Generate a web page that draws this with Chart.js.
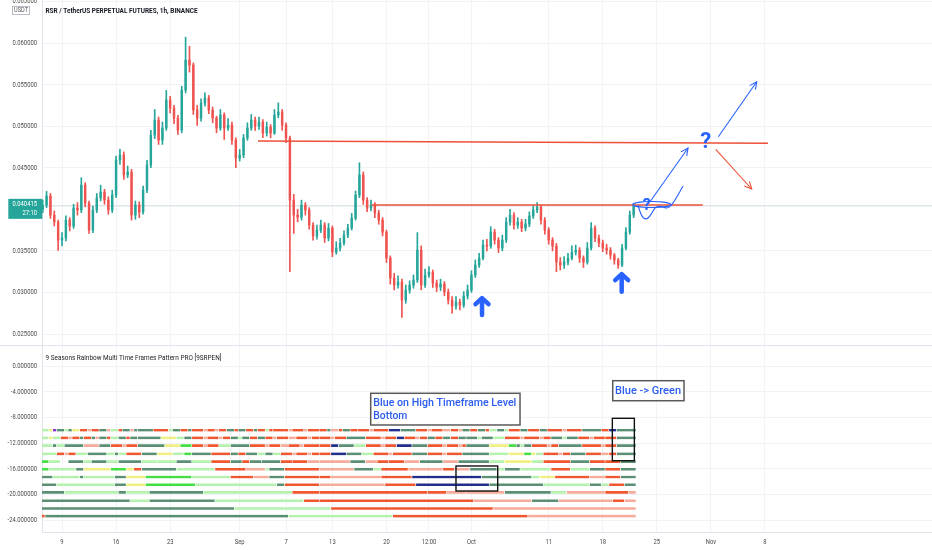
<!DOCTYPE html>
<html>
<head>
<meta charset="utf-8">
<script src="https://cdn.jsdelivr.net/npm/chart.js@4.4.1/dist/chart.umd.min.js"></script>
<style>
  html, body { margin: 0; padding: 0; background: #ffffff; }
  #wrap { position: relative; width: 932px; height: 550px; overflow: hidden; background: #ffffff; }
  #price-chart { position: absolute; left: 0; top: 0; width: 932px; height: 346px; }
  #rainbow-chart { position: absolute; left: 0; top: 346px; width: 932px; height: 204px; }
</style>
</head>
<body>
<div id="wrap">
  <canvas id="price-chart" width="932" height="346"></canvas>
  <canvas id="rainbow-chart" width="932" height="204"></canvas>
</div>
<script>
console.log("RSR chart loaded");

// Sumbu waktu pakai angka hari: 1 = 1 Agustus, 32 = 1 Sep, 62 = 1 Okt, 93 = 1 Nov
const dateTicks = [9, 16, 23, 32, 38, 44, 51, 56.5, 62, 72, 79, 86, 93, 100];
const dateLabels = ["9", "16", "23", "Sep", "7", "13", "20", "12:00", "Oct", "11", "18", "25", "Nov", "8"];

// Label harga di kiri (0.040000 ketutup tag harga terakhir)
const priceTicks = [0.025, 0.03, 0.035, 0.045, 0.05, 0.055, 0.06, 0.065];
const indicatorTicks = [0, -4, -8, -12, -16, -20, -24];

// Candle diringkas jadi per 12 jam
const candleStart = 6.5;
const candleStep = 0.5;

const opens = [
  0.04000, 0.04051, 0.04159, 0.03931, 0.03846, 0.03630, 0.03654, 0.03870, 0.03798, 0.04015,
  0.03991, 0.04291, 0.04075, 0.03750, 0.03991, 0.04135, 0.04207, 0.04111, 0.03991, 0.04171,
  0.04592, 0.04652, 0.04412, 0.04448, 0.03931, 0.04051, 0.03967, 0.04231, 0.04532, 0.04893,
  0.05073, 0.04833, 0.04977, 0.05314, 0.05218, 0.05097, 0.04953, 0.05434, 0.05795, 0.05735,
  0.05194, 0.05097, 0.05278, 0.05338, 0.05194, 0.05097, 0.04977, 0.05134, 0.04977, 0.05013,
  0.04833, 0.04616, 0.04652, 0.04857, 0.04977, 0.05073, 0.05001, 0.05049, 0.04917, 0.04989,
  0.04917, 0.05134, 0.05170, 0.05013, 0.04857, 0.04111, 0.03931, 0.03906, 0.04051, 0.03991,
  0.03810, 0.03678, 0.03750, 0.03810, 0.03654, 0.03774, 0.03485, 0.03534, 0.03594, 0.03690,
  0.03774, 0.03894, 0.04171, 0.04412, 0.04111, 0.04015, 0.04051, 0.03955, 0.03870, 0.03726,
  0.03413, 0.03173, 0.03088, 0.03125, 0.02908, 0.03028, 0.03088, 0.03149, 0.03509, 0.03088,
  0.03209, 0.03245, 0.03113, 0.03064, 0.03100, 0.03004, 0.02908, 0.02836, 0.02884, 0.02848,
  0.02956, 0.03028, 0.03209, 0.03329, 0.03413, 0.03570, 0.03558, 0.03726, 0.03630, 0.03534,
  0.03630, 0.03846, 0.03931, 0.03810, 0.03846, 0.03774, 0.03822, 0.03919, 0.03991, 0.04027,
  0.03870, 0.03750, 0.03630, 0.03558, 0.03365, 0.03329, 0.03365, 0.03413, 0.03485, 0.03509,
  0.03413, 0.03365, 0.03534, 0.03774, 0.03654, 0.03594, 0.03534, 0.03509, 0.03449, 0.03389,
  0.03329, 0.03534, 0.03726, 0.03931
];

const highs = [
  0.04110, 0.04215, 0.04190, 0.03980, 0.03870, 0.03720, 0.03920, 0.03900, 0.04060, 0.04080,
  0.04380, 0.04320, 0.04100, 0.04040, 0.04190, 0.04290, 0.04240, 0.04150, 0.04230, 0.04640,
  0.04720, 0.04690, 0.04520, 0.04480, 0.04100, 0.04090, 0.04280, 0.04590, 0.04950, 0.05200,
  0.05110, 0.05050, 0.05430, 0.05360, 0.05250, 0.05130, 0.05480, 0.06070, 0.05960, 0.05760,
  0.05250, 0.05330, 0.05400, 0.05370, 0.05230, 0.05120, 0.05200, 0.05160, 0.05090, 0.05050,
  0.04860, 0.04720, 0.04900, 0.05040, 0.05140, 0.05110, 0.05110, 0.05080, 0.05050, 0.05020,
  0.05200, 0.05280, 0.05200, 0.05040, 0.04880, 0.04180, 0.04000, 0.04110, 0.04080, 0.04020,
  0.03840, 0.03810, 0.03870, 0.03840, 0.03830, 0.03800, 0.03610, 0.03650, 0.03740, 0.03820,
  0.03950, 0.04220, 0.04560, 0.04450, 0.04140, 0.04110, 0.04080, 0.03990, 0.03900, 0.03750,
  0.03440, 0.03230, 0.03200, 0.03160, 0.03090, 0.03140, 0.03210, 0.03720, 0.03560, 0.03280,
  0.03310, 0.03270, 0.03150, 0.03160, 0.03130, 0.03040, 0.02950, 0.02950, 0.02920, 0.03010,
  0.03090, 0.03260, 0.03390, 0.03470, 0.03630, 0.03640, 0.03790, 0.03760, 0.03660, 0.03690,
  0.03900, 0.04000, 0.03960, 0.03900, 0.03880, 0.03880, 0.03970, 0.04040, 0.04080, 0.04050,
  0.03900, 0.03780, 0.03660, 0.03590, 0.03420, 0.03430, 0.03470, 0.03560, 0.03570, 0.03540,
  0.03440, 0.03600, 0.03840, 0.03800, 0.03690, 0.03630, 0.03580, 0.03540, 0.03470, 0.03410,
  0.03580, 0.03780, 0.03980, 0.04070
];

const lows = [
  0.03960, 0.04020, 0.03890, 0.03800, 0.03505, 0.03560, 0.03620, 0.03740, 0.03770, 0.03930,
  0.03960, 0.04030, 0.03710, 0.03720, 0.03960, 0.04100, 0.04060, 0.03940, 0.03960, 0.04140,
  0.04540, 0.04360, 0.04380, 0.03870, 0.03880, 0.03900, 0.03940, 0.04200, 0.04500, 0.04850,
  0.04780, 0.04780, 0.04950, 0.05160, 0.05030, 0.04900, 0.04920, 0.05400, 0.05650, 0.05140,
  0.05010, 0.05060, 0.05240, 0.05150, 0.05040, 0.04920, 0.04950, 0.04840, 0.04950, 0.04780,
  0.04500, 0.04580, 0.04620, 0.04830, 0.04950, 0.04950, 0.04960, 0.04860, 0.04880, 0.04860,
  0.04900, 0.05100, 0.04950, 0.04800, 0.03250, 0.03710, 0.03850, 0.03870, 0.03930, 0.03760,
  0.03630, 0.03640, 0.03720, 0.03600, 0.03620, 0.03430, 0.03460, 0.03500, 0.03570, 0.03660,
  0.03750, 0.03870, 0.04140, 0.04060, 0.03970, 0.03980, 0.03900, 0.03820, 0.03680, 0.03360,
  0.03100, 0.03030, 0.03050, 0.02700, 0.02870, 0.02990, 0.03050, 0.03120, 0.03030, 0.03060,
  0.03180, 0.03060, 0.03010, 0.03020, 0.02960, 0.02860, 0.02750, 0.02800, 0.02790, 0.02820,
  0.02920, 0.03000, 0.03180, 0.03300, 0.03390, 0.03500, 0.03530, 0.03580, 0.03480, 0.03500,
  0.03600, 0.03810, 0.03760, 0.03770, 0.03730, 0.03740, 0.03790, 0.03890, 0.03960, 0.03820,
  0.03700, 0.03580, 0.03500, 0.03250, 0.03270, 0.03290, 0.03330, 0.03390, 0.03450, 0.03360,
  0.03300, 0.03340, 0.03510, 0.03610, 0.03550, 0.03490, 0.03460, 0.03400, 0.03340, 0.03290,
  0.03310, 0.03510, 0.03700, 0.03900
];

const closes = [
  0.04051, 0.04159, 0.03931, 0.03846, 0.03630, 0.03654, 0.03870, 0.03798, 0.04015, 0.03991,
  0.04291, 0.04075, 0.03750, 0.03991, 0.04135, 0.04207, 0.04111, 0.03991, 0.04171, 0.04592,
  0.04652, 0.04412, 0.04448, 0.03931, 0.04051, 0.03967, 0.04231, 0.04532, 0.04893, 0.05073,
  0.04833, 0.04977, 0.05314, 0.05218, 0.05097, 0.04953, 0.05434, 0.05795, 0.05735, 0.05194,
  0.05097, 0.05278, 0.05338, 0.05194, 0.05097, 0.04977, 0.05134, 0.04977, 0.05013, 0.04833,
  0.04616, 0.04652, 0.04857, 0.04977, 0.05073, 0.05001, 0.05049, 0.04917, 0.04989, 0.04917,
  0.05134, 0.05170, 0.05013, 0.04857, 0.04111, 0.03931, 0.03906, 0.04051, 0.03991, 0.03810,
  0.03678, 0.03750, 0.03810, 0.03654, 0.03774, 0.03485, 0.03534, 0.03594, 0.03690, 0.03774,
  0.03894, 0.04171, 0.04412, 0.04111, 0.04015, 0.04051, 0.03955, 0.03870, 0.03726, 0.03413,
  0.03173, 0.03088, 0.03125, 0.02908, 0.03028, 0.03088, 0.03149, 0.03509, 0.03088, 0.03209,
  0.03245, 0.03113, 0.03064, 0.03100, 0.03004, 0.02908, 0.02836, 0.02884, 0.02848, 0.02956,
  0.03028, 0.03209, 0.03329, 0.03413, 0.03570, 0.03558, 0.03726, 0.03630, 0.03534, 0.03630,
  0.03846, 0.03931, 0.03810, 0.03846, 0.03774, 0.03822, 0.03919, 0.03991, 0.04027, 0.03870,
  0.03750, 0.03630, 0.03558, 0.03365, 0.03329, 0.03365, 0.03413, 0.03485, 0.03509, 0.03413,
  0.03365, 0.03534, 0.03774, 0.03654, 0.03594, 0.03534, 0.03509, 0.03449, 0.03389, 0.03329,
  0.03534, 0.03726, 0.03931, 0.040415
];

// Indikator rainbow: tiap baris = level + status per 12 jam (kode + jumlah slot)
// G hijau tua, g hijau muda, L hijau terang, Y kuning, R merah, r merah muda, B biru, P ungu, . kosong
const rowStart = 6.3;
const rowStep = 0.5;
const rowLevels = [-10, -11.2, -12.4, -13.7, -14.9, -16.1, -17.3, -18.5, -19.7, -21, -22.2, -23.4];
const rowStates = [
  "g2 Y1 P1 G2 g1 G1 Y2 R2 r1 R2 G2 r1 g2 R1 G2 r1 G1 G4 R4 g1 G2 R2 G1 R3 r1 R2 r1 R2 G2 R1 G2 R2 G1 R2 g1 R1 R4 r1 R3 r1 R3 R2 G1 r2 R1 G2 R2 R3 r1 R4 B3 G4 R3 r1 R3 r2 R2 r1 G2 R2 G2 R1 g2 G2 g1 R3 G2 R3 G2 R4 r1 R4 G5 R2 B2 G5",
  "g2 Y1 g2 R2 r1 R2 G1 R2 G1 r1 G2 R1 g2 G2 R1 G2 G6 Y4 g2 G2 R3 r1 R3 r1 R2 G2 g1 G2 R2 G2 R2 r1 R3 r2 R3 r1 R2 R3 r1 R3 G5 R4 r1 R3 B2 R3 r1 R2 G2 R2 G2 R2 G2 G3 g1 G3 g3 R4 r1 R4 r1 R2 G3 g1 G3 R3 r1 R3 R3 G5",
  "g3 G1 g2 G5 r4 G3 R3 r1 R3 G7 Y4 L3 R3 r1 R3 g3 G5 R4 r1 R3 r2 R3 r1 R4 R3 B2 G4 g3 R4 r1 R3 B4 G4 R4 r1 R3 r1 R1 G6 Y5 L2 G1 g1 G2 R4 r1 R2 G6 R5 r1 R3 G5",
  "g4 R2 r1 R2 g3 G5 g2 G1 g2 R4 G4 Y4 g3 L2 G5 R5 G2 R2 G3 g2 G2 g2 R3 r1 R3 r1 R2 R3 B4 G4 g3 R4 r1 R5 G4 R4 r1 R4 G7 g5 Y4 L2 Y1 g2 R4 r1 R2 G4 R4 r2 R2 G5",
  "L2 g3 .2 G4 g2 G4 g3 G6 g4 g5 G4 g5 R5 G3 R2 G3 G5 R3 R4 r3 r8 G4 r3 R3 R4 r4 G6 r4 G8 g4 Y7 g3 R7 G5 R4 R4 G4",
  "L2 g7 G2 Y7 L4 Y2 R2 G9 g10 R8 r5 g1 G4 R9 r9 G5 g2 R7 r9 R3 r4 G7 g2 G4 g8 R5 g5 G4 R4 G4",
  "G3 g7 G1 g8 G3 Y5 L12 g10 R6 r4 G4 R9 R3 r13 R8 B18 G13 g2 Y4 R9 r4 R4 G4",
  "G4 g15 G3 Y5 L13 g21 G2 R9 r17 R8 B19 G14 g12 G3 g2 R4 G3",
  "G6 g14 G2 g6 G14 g23 R7 R28 R5 r5 r10 G12 g4 r10 R6 r2",
  "G23 g5 G17 g23 R4 R40 r15 G7 r14 R3 r3",
  "G50 g25 R42 r37",
  "R1 G63 g27 R35 r28"
];

const stateColors = {
  G: "#5b8f74", g: "#b4f2ae", L: "#44dd44", Y: "#f0ef82",
  R: "#f0572f", r: "#f6ab9b", B: "#232d8c", P: "#8c2fd6"
};

const TEAL = "#26a69a";
const RED = "#ef5350";
const BLUE = "#2962ff";
const LINE_RED = "#ee5038";
const GRID = "#f2f3f6";
const BORDER = "#e0e3eb";
const AXIS_TEXT = "#4a4a4a";

const xMin = 6.41, xMax = 121.62;
const priceMin = 0.023559, priceMax = 0.065172;
const levelMin = -25.87, levelMax = 3.12;

// Coretan manual di chart, koordinat dalam hari & harga
const redLines = [
  { from: [34.37, 0.048214], to: [100.39, 0.047937] },
  { from: [49.09, 0.040517], to: [91.94, 0.040517] }
];
const thinArrows = [
  { from: [85.12, 0.040914], to: [90.04, 0.047372], color: BLUE },
  { from: [93.96, 0.048731], to: [98.93, 0.055346], color: BLUE },
  { from: [93.62, 0.047216], to: [98.28, 0.042441], color: LINE_RED }
];
const bigArrows = [
  { x: 63.37, tip: 0.029488, base: 0.027287 },
  { x: 81.45, tip: 0.032374, base: 0.030089 }
];
const waveCurve = [
  [83.56, 0.040517], [83.95, 0.039194], [84.60, 0.038713], [85.25, 0.039314], [85.76, 0.040276],
  [86.54, 0.040396], [87.45, 0.040035], [88.23, 0.040877], [89.39, 0.042802]
];
const ringShape = { left: 82.88, right: 87.80, top: 0.040938, bottom: 0.040216 };
const questionMarks = [
  { x: 92.33, y: 0.048009, size: 22 },
  { x: 84.69, y: 0.040396, size: 16 }
];

// Kotak & catatan di panel indikator (hari, level)
const markBoxes = [
  { x1: 60.0, x2: 65.40, y1: -15.58, y2: -19.48 },
  { x1: 80.24, x2: 83.09, y1: -8.15, y2: -14.76 }
];
const noteBoxes = [
  { x1: 48.96, x2: 68.29, y1: -4.25, y2: -9.19,
    lines: [
      { text: "Blue on High Timeframe Level", x: 49.30, y: -5.81, width: 143 },
      { text: "Bottom", x: 49.30, y: -7.79, width: 34 }
    ] },
  { x1: 80.29, x2: 89.52, y1: -2.29, y2: -5.41,
    lines: [ { text: "Blue -> Green", x: 80.59, y: -3.90, width: 66 } ] }
];

// Helper gambar teks yang agak dipadatkan (font layar aslinya sempit)
function drawText(ctx, text, x, y, opt) {
  ctx.save();
  ctx.font = opt.font;
  ctx.fillStyle = opt.color;
  ctx.textBaseline = "middle";
  ctx.textAlign = opt.align || "left";
  const w = ctx.measureText(text).width;
  const sx = opt.width ? opt.width / w : (opt.squeeze || 1);
  ctx.translate(x, y);
  ctx.scale(sx, 1);
  ctx.fillText(text, 0, 0);
  ctx.restore();
}

function arrowLine(ctx, x1, y1, x2, y2, color) {
  ctx.save();
  ctx.strokeStyle = color;
  ctx.lineWidth = 1.1;
  ctx.beginPath();
  ctx.moveTo(x1, y1);
  ctx.lineTo(x2, y2);
  ctx.stroke();
  const a = Math.atan2(y2 - y1, x2 - x1);
  ctx.beginPath();
  ctx.moveTo(x2 - 8 * Math.cos(a - 0.45), y2 - 8 * Math.sin(a - 0.45));
  ctx.lineTo(x2, y2);
  ctx.lineTo(x2 - 8 * Math.cos(a + 0.45), y2 - 8 * Math.sin(a + 0.45));
  ctx.stroke();
  ctx.restore();
}

function bigArrow(ctx, x, yTip, yBase) {
  ctx.save();
  ctx.strokeStyle = BLUE;
  ctx.lineWidth = 4.5;
  ctx.lineCap = "round";
  ctx.lineJoin = "round";
  ctx.beginPath();
  ctx.moveTo(x, yBase);
  ctx.lineTo(x, yTip + 2);
  ctx.stroke();
  ctx.beginPath();
  ctx.moveTo(x - 6.5, yTip + 7.5);
  ctx.lineTo(x, yTip + 1.5);
  ctx.lineTo(x + 6.5, yTip + 7.5);
  ctx.stroke();
  ctx.restore();
}

function smoothPath(ctx, pts) {
  ctx.beginPath();
  ctx.moveTo(pts[0][0], pts[0][1]);
  for (let i = 1; i < pts.length - 1; i++) {
    const mx = (pts[i][0] + pts[i + 1][0]) / 2;
    const my = (pts[i][1] + pts[i + 1][1]) / 2;
    ctx.quadraticCurveTo(pts[i][0], pts[i][1], mx, my);
  }
  const last = pts[pts.length - 1];
  ctx.lineTo(last[0], last[1]);
  ctx.stroke();
}

function candleColor(i) {
  return closes[i] >= opens[i] ? TEAL : RED;
}

const wickData = highs.map((h, i) => ({ x: candleStart + i * candleStep, y: [lows[i], h] }));
const bodyData = opens.map((o, i) => ({ x: candleStart + i * candleStep, y: [o, closes[i]] }));

// Overlay panel harga: garis, coretan, label sumbu, judul
const priceOverlay = {
  id: "priceOverlay",
  beforeDatasetsDraw(chart) {
    const { ctx, scales: { y }, chartArea } = chart;
    const py = y.getPixelForValue(closes[closes.length - 1]);
    ctx.save();
    ctx.strokeStyle = "#dfe6e9";
    ctx.lineWidth = 1.5;
    ctx.beginPath();
    ctx.moveTo(chartArea.left, py);
    ctx.lineTo(chartArea.right, py);
    ctx.stroke();
    ctx.restore();
  },
  afterDatasetsDraw(chart) {
    const { ctx, scales: { x, y } } = chart;
    const px = (p) => [x.getPixelForValue(p[0]), y.getPixelForValue(p[1])];

    ctx.save();
    ctx.strokeStyle = LINE_RED;
    ctx.lineWidth = 1.6;
    redLines.forEach((l) => {
      const a = px(l.from), b = px(l.to);
      ctx.beginPath();
      ctx.moveTo(a[0], a[1]);
      ctx.lineTo(b[0], b[1]);
      ctx.stroke();
    });
    ctx.restore();

    thinArrows.forEach((a) => {
      const p1 = px(a.from), p2 = px(a.to);
      arrowLine(ctx, p1[0], p1[1], p2[0], p2[1], a.color);
    });

    bigArrows.forEach((a) => {
      bigArrow(ctx, x.getPixelForValue(a.x), y.getPixelForValue(a.tip), y.getPixelForValue(a.base));
    });

    ctx.save();
    ctx.strokeStyle = BLUE;
    ctx.lineWidth = 1.1;
    const l = x.getPixelForValue(ringShape.left), r = x.getPixelForValue(ringShape.right);
    const t = y.getPixelForValue(ringShape.top), b = y.getPixelForValue(ringShape.bottom);
    ctx.beginPath();
    ctx.ellipse((l + r) / 2, (t + b) / 2, (r - l) / 2, (b - t) / 2, 0, 0, Math.PI * 2);
    ctx.stroke();
    smoothPath(ctx, waveCurve.map(px));
    ctx.restore();

    questionMarks.forEach((q) => {
      drawText(ctx, "?", x.getPixelForValue(q.x), y.getPixelForValue(q.y), {
        font: "bold " + q.size + "px Roboto", color: BLUE, align: "center"
      });
    });
  },
  afterDraw(chart) {
    const { ctx, scales: { y }, chartArea } = chart;

    // label harga
    priceTicks.forEach((v) => {
      drawText(ctx, v.toFixed(6), 37, y.getPixelForValue(v), {
        font: "8px Roboto", color: AXIS_TEXT, align: "right", squeeze: 0.73
      });
    });

    // kotak USDT
    ctx.save();
    ctx.fillStyle = "#ffffff";
    ctx.strokeStyle = "#b8bcc6";
    ctx.lineWidth = 1;
    ctx.fillRect(12.5, 6.5, 17, 8);
    ctx.strokeRect(12.5, 6.5, 17, 8);
    ctx.restore();
    drawText(ctx, "USDT", 21, 10.7, { font: "7px Roboto", color: "#555", align: "center", width: 14 });

    // tag harga terakhir
    const last = closes[closes.length - 1];
    const py = y.getPixelForValue(last);
    ctx.save();
    ctx.fillStyle = TEAL;
    ctx.fillRect(8.3, py - 7, 34, 20);
    ctx.restore();
    drawText(ctx, last.toFixed(6), 37, py - 1.5, { font: "8px Roboto", color: "#ffffff", align: "right", squeeze: 0.73 });
    drawText(ctx, "27:10", 37, py + 7.3, { font: "8px Roboto", color: "#ffffff", align: "right", squeeze: 0.73 });

    // judul
    drawText(ctx, "RSR / TetherUS PERPETUAL FUTURES, 1h, BINANCE", 45.5, 11.5, {
      font: "bold 7.5px Roboto", color: "#131722", width: 152
    });

    // garis pemisah panel
    ctx.save();
    ctx.strokeStyle = BORDER;
    ctx.lineWidth = 1.2;
    ctx.beginPath();
    ctx.moveTo(0, chartArea.bottom - 0.5);
    ctx.lineTo(chart.width, chartArea.bottom - 0.5);
    ctx.stroke();
    ctx.restore();
  }
};

const priceChart = new Chart(document.querySelector("#price-chart"), {
  type: "bar",
  data: {
    datasets: [
      {
        data: wickData,
        backgroundColor: (c) => candleColor(c.dataIndex),
        barThickness: 1,
        grouped: false,
        order: 2
      },
      {
        data: bodyData,
        backgroundColor: (c) => candleColor(c.dataIndex),
        barThickness: 1.8,
        grouped: false,
        order: 1
      }
    ]
  },
  options: {
    responsive: false,
    animation: false,
    events: [],
    layout: { padding: 0 },
    plugins: { legend: { display: false }, tooltip: { enabled: false } },
    scales: {
      x: {
        type: "linear",
        min: xMin,
        max: xMax,
        offset: false,
        grid: { offset: false, color: GRID, drawTicks: false },
        border: { display: false },
        ticks: { display: false },
        afterBuildTicks: (s) => { s.ticks = dateTicks.map((v) => ({ value: v })); },
        afterFit: (s) => { s.height = 0; }
      },
      y: {
        type: "linear",
        position: "left",
        min: priceMin,
        max: priceMax,
        grid: { color: GRID, drawTicks: false },
        border: { display: true, color: BORDER },
        ticks: { display: false },
        afterBuildTicks: (s) => { s.ticks = priceTicks.map((v) => ({ value: v })); },
        afterFit: (s) => { s.width = 42; }
      }
    }
  },
  plugins: [priceOverlay]
});

// Susun batang horizontal buat tiap baris rainbow
const rainbowBars = [];
rowStates.forEach((row, r) => {
  let t = rowStart;
  row.split(" ").forEach((tok) => {
    const code = tok[0];
    const len = Number(tok.slice(1)) * rowStep;
    if (code !== ".") {
      rainbowBars.push({ x: [t, t + len], y: rowLevels[r], code: code });
    }
    t += len;
  });
});

const rainbowOverlay = {
  id: "rainbowOverlay",
  afterDatasetsDraw(chart) {
    const { ctx, scales: { x, y } } = chart;

    ctx.save();
    ctx.strokeStyle = "#111111";
    ctx.lineWidth = 1.4;
    markBoxes.forEach((b) => {
      const l = x.getPixelForValue(b.x1), r = x.getPixelForValue(b.x2);
      const t = y.getPixelForValue(b.y1), bt = y.getPixelForValue(b.y2);
      ctx.strokeRect(l, t, r - l, bt - t);
    });
    ctx.restore();

    noteBoxes.forEach((n) => {
      const l = x.getPixelForValue(n.x1), r = x.getPixelForValue(n.x2);
      const t = y.getPixelForValue(n.y1), bt = y.getPixelForValue(n.y2);
      ctx.save();
      ctx.fillStyle = "#ffffff";
      ctx.fillRect(l, t, r - l, bt - t);
      ctx.strokeStyle = "#5a5a5a";
      ctx.lineWidth = 1.5;
      ctx.strokeRect(l, t, r - l, bt - t);
      ctx.restore();
      n.lines.forEach((ln) => {
        drawText(ctx, ln.text, x.getPixelForValue(ln.x), y.getPixelForValue(ln.y), {
          font: "500 11.5px Roboto", color: "#2a5cf0", width: ln.width
        });
      });
    });
  },
  afterDraw(chart) {
    const { ctx, scales: { x, y }, chartArea } = chart;

    indicatorTicks.forEach((v) => {
      drawText(ctx, v.toFixed(6), 37, y.getPixelForValue(v), {
        font: "8px Roboto", color: AXIS_TEXT, align: "right", squeeze: 0.73
      });
    });

    dateTicks.forEach((v, i) => {
      drawText(ctx, dateLabels[i], x.getPixelForValue(v), chartArea.bottom + 9.5, {
        font: "8px Roboto", color: AXIS_TEXT, align: "center", squeeze: 0.73
      });
    });

    drawText(ctx, "9 Seasons Rainbow Multi Time Frames Pattern PRO [9SRPEN]", 45.5, 12, {
      font: "7.5px Roboto", color: "#222222", width: 176
    });
  }
};

const rainbowChart = new Chart(document.querySelector("#rainbow-chart"), {
  type: "bar",
  data: {
    datasets: [
      {
        data: rainbowBars,
        backgroundColor: (c) => (c.raw ? stateColors[c.raw.code] : "#000000"),
        borderColor: "#ffffff",
        borderWidth: { left: 0.6, right: 0.6, top: 0, bottom: 0 },
        borderSkipped: false,
        barThickness: 2.6,
        grouped: false
      }
    ]
  },
  options: {
    indexAxis: "y",
    responsive: false,
    animation: false,
    events: [],
    layout: { padding: 0 },
    plugins: { legend: { display: false }, tooltip: { enabled: false } },
    scales: {
      x: {
        type: "linear",
        min: xMin,
        max: xMax,
        offset: false,
        grid: { offset: false, color: GRID, drawTicks: false },
        border: { display: true, color: BORDER },
        ticks: { display: false },
        afterBuildTicks: (s) => { s.ticks = dateTicks.map((v) => ({ value: v })); },
        afterFit: (s) => { s.height = 18; }
      },
      y: {
        type: "linear",
        position: "left",
        min: levelMin,
        max: levelMax,
        offset: false,
        grid: { offset: false, color: GRID, drawTicks: false },
        border: { display: true, color: BORDER },
        ticks: { display: false },
        afterBuildTicks: (s) => { s.ticks = indicatorTicks.map((v) => ({ value: v })); },
        afterFit: (s) => { s.width = 42; }
      }
    }
  },
  plugins: [rainbowOverlay]
});
</script>
</body>
</html>
